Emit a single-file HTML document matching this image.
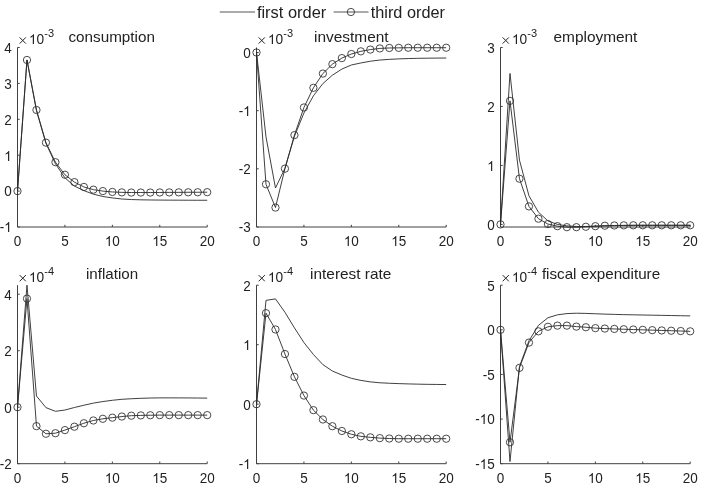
<!DOCTYPE html><html><head><meta charset="utf-8"><style>html,body{margin:0;padding:0;background:#fff;}svg{display:block;will-change:transform;}text{font-family:"Liberation Sans",sans-serif;}</style></head><body>
<svg width="704" height="488" viewBox="0 0 704 488">
<rect width="704" height="488" fill="#fff"/>
<path d="M17.5 47.5V227H207.2" fill="none" stroke="#404040" stroke-width="1.0"/>
<path d="M17.5 47.5h2.2M17.5 83.4h2.2M17.5 119.3h2.2M17.5 155.2h2.2M17.5 191.1h2.2M17.5 227h2.2M17.5 227v-2.2M64.92 227v-2.2M112.35 227v-2.2M159.78 227v-2.2M207.2 227v-2.2" fill="none" stroke="#404040" stroke-width="1.0"/>
<text x="4.19" y="53" font-size="14.8" textLength="7.51" lengthAdjust="spacingAndGlyphs" fill="#222">4</text>
<text x="4.19" y="89" font-size="14.8" textLength="7.51" lengthAdjust="spacingAndGlyphs" fill="#222">3</text>
<text x="4.19" y="125" font-size="14.8" textLength="7.51" lengthAdjust="spacingAndGlyphs" fill="#222">2</text>
<text x="4.19" y="161" font-size="14.8" textLength="7.51" lengthAdjust="spacingAndGlyphs" fill="#222"> </text><path d="M763 0L583 0L583 1147Q518 1085 412 1023Q306 961 222 930L222 1104Q373 1175 486 1276Q599 1377 646 1472L763 1472Z" fill="#222" transform="matrix(0.00659 0 0 -0.00676 4.19 161)"/>
<text x="4.19" y="196" font-size="14.8" textLength="7.51" lengthAdjust="spacingAndGlyphs" fill="#222">0</text>
<text x="-0.3" y="232" font-size="14.8" textLength="12" lengthAdjust="spacingAndGlyphs" fill="#222">- </text><path d="M763 0L583 0L583 1147Q518 1085 412 1023Q306 961 222 930L222 1104Q373 1175 486 1276Q599 1377 646 1472L763 1472Z" fill="#222" transform="matrix(0.00659 0 0 -0.00676 4.19 232)"/>
<text x="13.75" y="246" font-size="14.8" textLength="7.51" lengthAdjust="spacingAndGlyphs" fill="#222">0</text>
<text x="61.17" y="246" font-size="14.8" textLength="7.51" lengthAdjust="spacingAndGlyphs" fill="#222">5</text>
<text x="104.84" y="246" font-size="14.8" textLength="15.02" lengthAdjust="spacingAndGlyphs" fill="#222"> 0</text><path d="M763 0L583 0L583 1147Q518 1085 412 1023Q306 961 222 930L222 1104Q373 1175 486 1276Q599 1377 646 1472L763 1472Z" fill="#222" transform="matrix(0.00659 0 0 -0.00676 104.84 246)"/>
<text x="152.27" y="246" font-size="14.8" textLength="15.02" lengthAdjust="spacingAndGlyphs" fill="#222"> 5</text><path d="M763 0L583 0L583 1147Q518 1085 412 1023Q306 961 222 930L222 1104Q373 1175 486 1276Q599 1377 646 1472L763 1472Z" fill="#222" transform="matrix(0.00659 0 0 -0.00676 152.27 246)"/>
<text x="199.69" y="246" font-size="14.8" textLength="15.02" lengthAdjust="spacingAndGlyphs" fill="#222">20</text>
<path d="M19.65 37.4L25.85 43.6M25.85 37.4L19.65 43.6" stroke="#222" stroke-width="1.0" fill="none"/>
<text x="28.9" y="44" font-size="14.6" textLength="15.24" lengthAdjust="spacingAndGlyphs" fill="#222"> 0</text><path d="M763 0L583 0L583 1147Q518 1085 412 1023Q306 961 222 930L222 1104Q373 1175 486 1276Q599 1377 646 1472L763 1472Z" fill="#222" transform="matrix(0.00669 0 0 -0.00667 28.9 44)"/>
<text x="44.3" y="36.9" font-size="11.0" fill="#222">-3</text>
<text x="68.5" y="41.7" font-size="15.0" textLength="86.4" lengthAdjust="spacingAndGlyphs" fill="#222">consumption</text>
<polyline points="17.5,191.1 26.98,59.96 36.47,110.68 45.95,143.35 55.44,163.82 64.92,177.82 74.41,186.07 83.89,190.63 93.38,194.15 102.86,196.49 112.35,197.92 121.83,199 131.32,199.54 140.81,199.82 150.29,199.97 159.78,200.07 169.26,200.15 178.74,200.18 188.23,200.22 197.71,200.25 207.2,200.25" fill="none" stroke="#2a2a2a" stroke-width="0.9" stroke-linejoin="round"/>
<polyline points="17.5,191.1 26.98,59.96 36.47,109.97 45.95,142.63 55.44,162.2 64.92,174.73 74.41,182.12 83.89,186.94 93.38,189.66 102.86,191.1 112.35,191.96 121.83,192.36 131.32,192.54 140.81,192.54 150.29,192.54 159.78,192.46 169.26,192.39 178.74,192.36 188.23,192.28 197.71,192.25 207.2,192.18" fill="none" stroke="#2a2a2a" stroke-width="0.9" stroke-linejoin="round"/>
<g fill="none" stroke="#2a2a2a" stroke-width="0.85"><circle cx="17.5" cy="191.1" r="3.65"/><circle cx="26.98" cy="59.96" r="3.65"/><circle cx="36.47" cy="109.97" r="3.65"/><circle cx="45.95" cy="142.63" r="3.65"/><circle cx="55.44" cy="162.2" r="3.65"/><circle cx="64.92" cy="174.73" r="3.65"/><circle cx="74.41" cy="182.12" r="3.65"/><circle cx="83.89" cy="186.94" r="3.65"/><circle cx="93.38" cy="189.66" r="3.65"/><circle cx="102.86" cy="191.1" r="3.65"/><circle cx="112.35" cy="191.96" r="3.65"/><circle cx="121.83" cy="192.36" r="3.65"/><circle cx="131.32" cy="192.54" r="3.65"/><circle cx="140.81" cy="192.54" r="3.65"/><circle cx="150.29" cy="192.54" r="3.65"/><circle cx="159.78" cy="192.46" r="3.65"/><circle cx="169.26" cy="192.39" r="3.65"/><circle cx="178.74" cy="192.36" r="3.65"/><circle cx="188.23" cy="192.28" r="3.65"/><circle cx="197.71" cy="192.25" r="3.65"/><circle cx="207.2" cy="192.18" r="3.65"/></g>
<path d="M256.5 47.5V227H446.2" fill="none" stroke="#404040" stroke-width="1.0"/>
<path d="M256.5 52.5h2.2M256.5 110.67h2.2M256.5 168.83h2.2M256.5 227h2.2M256.5 227v-2.2M303.93 227v-2.2M351.35 227v-2.2M398.77 227v-2.2M446.2 227v-2.2" fill="none" stroke="#404040" stroke-width="1.0"/>
<text x="243.19" y="58" font-size="14.8" textLength="7.51" lengthAdjust="spacingAndGlyphs" fill="#222">0</text>
<text x="238.7" y="116" font-size="14.8" textLength="12" lengthAdjust="spacingAndGlyphs" fill="#222">- </text><path d="M763 0L583 0L583 1147Q518 1085 412 1023Q306 961 222 930L222 1104Q373 1175 486 1276Q599 1377 646 1472L763 1472Z" fill="#222" transform="matrix(0.00659 0 0 -0.00676 243.19 116)"/>
<text x="238.7" y="174" font-size="14.8" textLength="12" lengthAdjust="spacingAndGlyphs" fill="#222">-2</text>
<text x="238.7" y="232" font-size="14.8" textLength="12" lengthAdjust="spacingAndGlyphs" fill="#222">-3</text>
<text x="252.75" y="246" font-size="14.8" textLength="7.51" lengthAdjust="spacingAndGlyphs" fill="#222">0</text>
<text x="300.17" y="246" font-size="14.8" textLength="7.51" lengthAdjust="spacingAndGlyphs" fill="#222">5</text>
<text x="343.84" y="246" font-size="14.8" textLength="15.02" lengthAdjust="spacingAndGlyphs" fill="#222"> 0</text><path d="M763 0L583 0L583 1147Q518 1085 412 1023Q306 961 222 930L222 1104Q373 1175 486 1276Q599 1377 646 1472L763 1472Z" fill="#222" transform="matrix(0.00659 0 0 -0.00676 343.84 246)"/>
<text x="391.27" y="246" font-size="14.8" textLength="15.02" lengthAdjust="spacingAndGlyphs" fill="#222"> 5</text><path d="M763 0L583 0L583 1147Q518 1085 412 1023Q306 961 222 930L222 1104Q373 1175 486 1276Q599 1377 646 1472L763 1472Z" fill="#222" transform="matrix(0.00659 0 0 -0.00676 391.27 246)"/>
<text x="438.69" y="246" font-size="14.8" textLength="15.02" lengthAdjust="spacingAndGlyphs" fill="#222">20</text>
<path d="M258.65 37.4L264.85 43.6M264.85 37.4L258.65 43.6" stroke="#222" stroke-width="1.0" fill="none"/>
<text x="267.9" y="44" font-size="14.6" textLength="15.24" lengthAdjust="spacingAndGlyphs" fill="#222"> 0</text><path d="M763 0L583 0L583 1147Q518 1085 412 1023Q306 961 222 930L222 1104Q373 1175 486 1276Q599 1377 646 1472L763 1472Z" fill="#222" transform="matrix(0.00669 0 0 -0.00667 267.9 44)"/>
<text x="283.3" y="36.9" font-size="11.0" fill="#222">-3</text>
<text x="314" y="41.7" font-size="15.0" textLength="74.6" lengthAdjust="spacingAndGlyphs" fill="#222">investment</text>
<polyline points="256.5,52.5 265.99,136.84 275.47,188.03 284.95,168.25 294.44,136.26 303.93,112.99 313.41,95.84 322.89,83.62 332.38,75.19 341.87,69.08 351.35,65.01 360.83,62.97 370.32,61.23 379.81,60.06 389.29,59.37 398.77,58.9 408.26,58.55 417.75,58.32 427.23,58.2 436.71,58.09 446.2,58.03" fill="none" stroke="#2a2a2a" stroke-width="0.9" stroke-linejoin="round"/>
<polyline points="256.5,52.5 265.99,184.25 275.47,207.57 284.95,168.66 294.44,135.1 303.93,107.47 313.41,87.81 322.89,73.56 332.38,64.14 341.87,58.09 351.35,54.01 360.83,51.34 370.32,49.59 379.81,48.43 389.29,47.97 398.77,47.85 408.26,47.73 417.75,47.73 427.23,47.73 436.71,47.73 446.2,47.73" fill="none" stroke="#2a2a2a" stroke-width="0.9" stroke-linejoin="round"/>
<g fill="none" stroke="#2a2a2a" stroke-width="0.85"><circle cx="256.5" cy="52.5" r="3.65"/><circle cx="265.99" cy="184.25" r="3.65"/><circle cx="275.47" cy="207.57" r="3.65"/><circle cx="284.95" cy="168.66" r="3.65"/><circle cx="294.44" cy="135.1" r="3.65"/><circle cx="303.93" cy="107.47" r="3.65"/><circle cx="313.41" cy="87.81" r="3.65"/><circle cx="322.89" cy="73.56" r="3.65"/><circle cx="332.38" cy="64.14" r="3.65"/><circle cx="341.87" cy="58.09" r="3.65"/><circle cx="351.35" cy="54.01" r="3.65"/><circle cx="360.83" cy="51.34" r="3.65"/><circle cx="370.32" cy="49.59" r="3.65"/><circle cx="379.81" cy="48.43" r="3.65"/><circle cx="389.29" cy="47.97" r="3.65"/><circle cx="398.77" cy="47.85" r="3.65"/><circle cx="408.26" cy="47.73" r="3.65"/><circle cx="417.75" cy="47.73" r="3.65"/><circle cx="427.23" cy="47.73" r="3.65"/><circle cx="436.71" cy="47.73" r="3.65"/><circle cx="446.2" cy="47.73" r="3.65"/></g>
<path d="M500.5 47.5V227H690.2" fill="none" stroke="#404040" stroke-width="1.0"/>
<path d="M500.5 47.5h2.2M500.5 106.47h2.2M500.5 165.44h2.2M500.5 224.41h2.2M500.5 227v-2.2M547.92 227v-2.2M595.35 227v-2.2M642.77 227v-2.2M690.2 227v-2.2" fill="none" stroke="#404040" stroke-width="1.0"/>
<text x="487.19" y="53" font-size="14.8" textLength="7.51" lengthAdjust="spacingAndGlyphs" fill="#222">3</text>
<text x="487.19" y="112" font-size="14.8" textLength="7.51" lengthAdjust="spacingAndGlyphs" fill="#222">2</text>
<text x="487.19" y="171" font-size="14.8" textLength="7.51" lengthAdjust="spacingAndGlyphs" fill="#222"> </text><path d="M763 0L583 0L583 1147Q518 1085 412 1023Q306 961 222 930L222 1104Q373 1175 486 1276Q599 1377 646 1472L763 1472Z" fill="#222" transform="matrix(0.00659 0 0 -0.00676 487.19 171)"/>
<text x="487.19" y="230" font-size="14.8" textLength="7.51" lengthAdjust="spacingAndGlyphs" fill="#222">0</text>
<text x="496.75" y="246" font-size="14.8" textLength="7.51" lengthAdjust="spacingAndGlyphs" fill="#222">0</text>
<text x="544.17" y="246" font-size="14.8" textLength="7.51" lengthAdjust="spacingAndGlyphs" fill="#222">5</text>
<text x="587.84" y="246" font-size="14.8" textLength="15.02" lengthAdjust="spacingAndGlyphs" fill="#222"> 0</text><path d="M763 0L583 0L583 1147Q518 1085 412 1023Q306 961 222 930L222 1104Q373 1175 486 1276Q599 1377 646 1472L763 1472Z" fill="#222" transform="matrix(0.00659 0 0 -0.00676 587.84 246)"/>
<text x="635.27" y="246" font-size="14.8" textLength="15.02" lengthAdjust="spacingAndGlyphs" fill="#222"> 5</text><path d="M763 0L583 0L583 1147Q518 1085 412 1023Q306 961 222 930L222 1104Q373 1175 486 1276Q599 1377 646 1472L763 1472Z" fill="#222" transform="matrix(0.00659 0 0 -0.00676 635.27 246)"/>
<text x="682.69" y="246" font-size="14.8" textLength="15.02" lengthAdjust="spacingAndGlyphs" fill="#222">20</text>
<path d="M502.65 37.4L508.85 43.6M508.85 37.4L502.65 43.6" stroke="#222" stroke-width="1.0" fill="none"/>
<text x="511.9" y="44" font-size="14.6" textLength="15.24" lengthAdjust="spacingAndGlyphs" fill="#222"> 0</text><path d="M763 0L583 0L583 1147Q518 1085 412 1023Q306 961 222 930L222 1104Q373 1175 486 1276Q599 1377 646 1472L763 1472Z" fill="#222" transform="matrix(0.00669 0 0 -0.00667 511.9 44)"/>
<text x="527.3" y="36.9" font-size="11.0" fill="#222">-3</text>
<text x="553.5" y="41.7" font-size="15.0" textLength="83.9" lengthAdjust="spacingAndGlyphs" fill="#222">employment</text>
<polyline points="500.5,224.41 509.99,73.45 519.47,160.13 528.96,195.81 538.44,212.2 547.92,220.87 557.41,224.41 566.89,225.88 576.38,226.47 585.87,226.47 595.35,226.17 604.84,225.88 614.32,225.58 623.8,225.47 633.29,225.35 642.77,225.29 652.26,225.29 661.75,225.29 671.23,225.29 680.71,225.29 690.2,225.29" fill="none" stroke="#2a2a2a" stroke-width="0.9" stroke-linejoin="round"/>
<polyline points="500.5,224.41 509.99,100.87 519.47,178.7 528.96,206.42 538.44,218.69 547.92,224.05 557.41,226.17 566.89,227.18 576.38,227.18 585.87,226.76 595.35,226.17 604.84,225.7 614.32,225.47 623.8,225.35 633.29,225.29 642.77,225.29 652.26,225.29 661.75,225.29 671.23,225.29 680.71,225.29 690.2,225.29" fill="none" stroke="#2a2a2a" stroke-width="0.9" stroke-linejoin="round"/>
<g fill="none" stroke="#2a2a2a" stroke-width="0.85"><circle cx="500.5" cy="224.41" r="3.65"/><circle cx="509.99" cy="100.87" r="3.65"/><circle cx="519.47" cy="178.7" r="3.65"/><circle cx="528.96" cy="206.42" r="3.65"/><circle cx="538.44" cy="218.69" r="3.65"/><circle cx="547.92" cy="224.05" r="3.65"/><circle cx="557.41" cy="226.17" r="3.65"/><circle cx="566.89" cy="227.18" r="3.65"/><circle cx="576.38" cy="227.18" r="3.65"/><circle cx="585.87" cy="226.76" r="3.65"/><circle cx="595.35" cy="226.17" r="3.65"/><circle cx="604.84" cy="225.7" r="3.65"/><circle cx="614.32" cy="225.47" r="3.65"/><circle cx="623.8" cy="225.35" r="3.65"/><circle cx="633.29" cy="225.29" r="3.65"/><circle cx="642.77" cy="225.29" r="3.65"/><circle cx="652.26" cy="225.29" r="3.65"/><circle cx="661.75" cy="225.29" r="3.65"/><circle cx="671.23" cy="225.29" r="3.65"/><circle cx="680.71" cy="225.29" r="3.65"/><circle cx="690.2" cy="225.29" r="3.65"/></g>
<path d="M17.5 285.2V463.7H207.2" fill="none" stroke="#404040" stroke-width="1.0"/>
<path d="M17.5 294.24h2.2M17.5 350.73h2.2M17.5 407.21h2.2M17.5 463.7h2.2M17.5 463.7v-2.2M64.92 463.7v-2.2M112.35 463.7v-2.2M159.78 463.7v-2.2M207.2 463.7v-2.2" fill="none" stroke="#404040" stroke-width="1.0"/>
<text x="4.19" y="300" font-size="14.8" textLength="7.51" lengthAdjust="spacingAndGlyphs" fill="#222">4</text>
<text x="4.19" y="356" font-size="14.8" textLength="7.51" lengthAdjust="spacingAndGlyphs" fill="#222">2</text>
<text x="4.19" y="413" font-size="14.8" textLength="7.51" lengthAdjust="spacingAndGlyphs" fill="#222">0</text>
<text x="-0.3" y="469" font-size="14.8" textLength="12" lengthAdjust="spacingAndGlyphs" fill="#222">-2</text>
<text x="13.75" y="483" font-size="14.8" textLength="7.51" lengthAdjust="spacingAndGlyphs" fill="#222">0</text>
<text x="61.17" y="483" font-size="14.8" textLength="7.51" lengthAdjust="spacingAndGlyphs" fill="#222">5</text>
<text x="104.84" y="483" font-size="14.8" textLength="15.02" lengthAdjust="spacingAndGlyphs" fill="#222"> 0</text><path d="M763 0L583 0L583 1147Q518 1085 412 1023Q306 961 222 930L222 1104Q373 1175 486 1276Q599 1377 646 1472L763 1472Z" fill="#222" transform="matrix(0.00659 0 0 -0.00676 104.84 483)"/>
<text x="152.27" y="483" font-size="14.8" textLength="15.02" lengthAdjust="spacingAndGlyphs" fill="#222"> 5</text><path d="M763 0L583 0L583 1147Q518 1085 412 1023Q306 961 222 930L222 1104Q373 1175 486 1276Q599 1377 646 1472L763 1472Z" fill="#222" transform="matrix(0.00659 0 0 -0.00676 152.27 483)"/>
<text x="199.69" y="483" font-size="14.8" textLength="15.02" lengthAdjust="spacingAndGlyphs" fill="#222">20</text>
<path d="M19.65 275.1L25.85 281.3M25.85 275.1L19.65 281.3" stroke="#222" stroke-width="1.0" fill="none"/>
<text x="28.9" y="282" font-size="14.6" textLength="15.24" lengthAdjust="spacingAndGlyphs" fill="#222"> 0</text><path d="M763 0L583 0L583 1147Q518 1085 412 1023Q306 961 222 930L222 1104Q373 1175 486 1276Q599 1377 646 1472L763 1472Z" fill="#222" transform="matrix(0.00669 0 0 -0.00667 28.9 282)"/>
<text x="44.3" y="274.6" font-size="11.0" fill="#222">-4</text>
<text x="86" y="279.4" font-size="15.0" textLength="52.1" lengthAdjust="spacingAndGlyphs" fill="#222">inflation</text>
<polyline points="17.5,407.21 26.98,285.2 36.47,396 45.95,407.61 55.44,411.31 64.92,410.04 74.41,407.5 83.89,405.24 93.38,403.12 102.86,401.56 112.35,400.29 121.83,399.3 131.32,398.74 140.81,398.32 150.29,398.03 159.78,397.89 169.26,397.89 178.74,397.89 188.23,397.95 197.71,398.03 207.2,398.12" fill="none" stroke="#2a2a2a" stroke-width="0.9" stroke-linejoin="round"/>
<polyline points="17.5,407.21 26.98,298.62 36.47,426.14 45.95,433.76 55.44,433.2 64.92,430.09 74.41,426.7 83.89,423.23 93.38,420.49 102.86,418.79 112.35,417.66 121.83,416.53 131.32,415.69 140.81,415.4 150.29,415.26 159.78,415.12 169.26,415.12 178.74,415.12 188.23,415.12 197.71,415.12 207.2,415.12" fill="none" stroke="#2a2a2a" stroke-width="0.9" stroke-linejoin="round"/>
<g fill="none" stroke="#2a2a2a" stroke-width="0.85"><circle cx="17.5" cy="407.21" r="3.65"/><circle cx="26.98" cy="298.62" r="3.65"/><circle cx="36.47" cy="426.14" r="3.65"/><circle cx="45.95" cy="433.76" r="3.65"/><circle cx="55.44" cy="433.2" r="3.65"/><circle cx="64.92" cy="430.09" r="3.65"/><circle cx="74.41" cy="426.7" r="3.65"/><circle cx="83.89" cy="423.23" r="3.65"/><circle cx="93.38" cy="420.49" r="3.65"/><circle cx="102.86" cy="418.79" r="3.65"/><circle cx="112.35" cy="417.66" r="3.65"/><circle cx="121.83" cy="416.53" r="3.65"/><circle cx="131.32" cy="415.69" r="3.65"/><circle cx="140.81" cy="415.4" r="3.65"/><circle cx="150.29" cy="415.26" r="3.65"/><circle cx="159.78" cy="415.12" r="3.65"/><circle cx="169.26" cy="415.12" r="3.65"/><circle cx="178.74" cy="415.12" r="3.65"/><circle cx="188.23" cy="415.12" r="3.65"/><circle cx="197.71" cy="415.12" r="3.65"/><circle cx="207.2" cy="415.12" r="3.65"/></g>
<path d="M256.5 285.2V463.7H446.2" fill="none" stroke="#404040" stroke-width="1.0"/>
<path d="M256.5 285.2h2.2M256.5 344.7h2.2M256.5 404.2h2.2M256.5 463.7h2.2M256.5 463.7v-2.2M303.93 463.7v-2.2M351.35 463.7v-2.2M398.77 463.7v-2.2M446.2 463.7v-2.2" fill="none" stroke="#404040" stroke-width="1.0"/>
<text x="243.19" y="291" font-size="14.8" textLength="7.51" lengthAdjust="spacingAndGlyphs" fill="#222">2</text>
<text x="243.19" y="350" font-size="14.8" textLength="7.51" lengthAdjust="spacingAndGlyphs" fill="#222"> </text><path d="M763 0L583 0L583 1147Q518 1085 412 1023Q306 961 222 930L222 1104Q373 1175 486 1276Q599 1377 646 1472L763 1472Z" fill="#222" transform="matrix(0.00659 0 0 -0.00676 243.19 350)"/>
<text x="243.19" y="410" font-size="14.8" textLength="7.51" lengthAdjust="spacingAndGlyphs" fill="#222">0</text>
<text x="238.7" y="469" font-size="14.8" textLength="12" lengthAdjust="spacingAndGlyphs" fill="#222">- </text><path d="M763 0L583 0L583 1147Q518 1085 412 1023Q306 961 222 930L222 1104Q373 1175 486 1276Q599 1377 646 1472L763 1472Z" fill="#222" transform="matrix(0.00659 0 0 -0.00676 243.19 469)"/>
<text x="252.75" y="483" font-size="14.8" textLength="7.51" lengthAdjust="spacingAndGlyphs" fill="#222">0</text>
<text x="300.17" y="483" font-size="14.8" textLength="7.51" lengthAdjust="spacingAndGlyphs" fill="#222">5</text>
<text x="343.84" y="483" font-size="14.8" textLength="15.02" lengthAdjust="spacingAndGlyphs" fill="#222"> 0</text><path d="M763 0L583 0L583 1147Q518 1085 412 1023Q306 961 222 930L222 1104Q373 1175 486 1276Q599 1377 646 1472L763 1472Z" fill="#222" transform="matrix(0.00659 0 0 -0.00676 343.84 483)"/>
<text x="391.27" y="483" font-size="14.8" textLength="15.02" lengthAdjust="spacingAndGlyphs" fill="#222"> 5</text><path d="M763 0L583 0L583 1147Q518 1085 412 1023Q306 961 222 930L222 1104Q373 1175 486 1276Q599 1377 646 1472L763 1472Z" fill="#222" transform="matrix(0.00659 0 0 -0.00676 391.27 483)"/>
<text x="438.69" y="483" font-size="14.8" textLength="15.02" lengthAdjust="spacingAndGlyphs" fill="#222">20</text>
<path d="M258.65 275.1L264.85 281.3M264.85 275.1L258.65 281.3" stroke="#222" stroke-width="1.0" fill="none"/>
<text x="267.9" y="282" font-size="14.6" textLength="15.24" lengthAdjust="spacingAndGlyphs" fill="#222"> 0</text><path d="M763 0L583 0L583 1147Q518 1085 412 1023Q306 961 222 930L222 1104Q373 1175 486 1276Q599 1377 646 1472L763 1472Z" fill="#222" transform="matrix(0.00669 0 0 -0.00667 267.9 282)"/>
<text x="283.3" y="274.6" font-size="11.0" fill="#222">-4</text>
<text x="310.1" y="279.4" font-size="15.0" textLength="81.2" lengthAdjust="spacingAndGlyphs" fill="#222">interest rate</text>
<polyline points="256.5,404.2 265.99,300.37 275.47,298.88 284.95,312.27 294.44,327.86 303.93,342.56 313.41,354.52 322.89,364.63 332.38,371 341.87,375.04 351.35,378.32 360.83,380.4 370.32,381.89 379.81,382.78 389.29,383.26 398.77,383.61 408.26,383.91 417.75,384.15 427.23,384.33 436.71,384.45 446.2,384.56" fill="none" stroke="#2a2a2a" stroke-width="0.9" stroke-linejoin="round"/>
<polyline points="256.5,404.2 265.99,313.16 275.47,329.47 284.95,354.04 294.44,376.83 303.93,395.57 313.41,410.15 322.89,419.49 332.38,426.21 341.87,430.97 351.35,434.25 360.83,436.33 370.32,437.34 379.81,438.12 389.29,438.53 398.77,438.71 408.26,438.71 417.75,438.71 427.23,438.71 436.71,438.71 446.2,438.71" fill="none" stroke="#2a2a2a" stroke-width="0.9" stroke-linejoin="round"/>
<g fill="none" stroke="#2a2a2a" stroke-width="0.85"><circle cx="256.5" cy="404.2" r="3.65"/><circle cx="265.99" cy="313.16" r="3.65"/><circle cx="275.47" cy="329.47" r="3.65"/><circle cx="284.95" cy="354.04" r="3.65"/><circle cx="294.44" cy="376.83" r="3.65"/><circle cx="303.93" cy="395.57" r="3.65"/><circle cx="313.41" cy="410.15" r="3.65"/><circle cx="322.89" cy="419.49" r="3.65"/><circle cx="332.38" cy="426.21" r="3.65"/><circle cx="341.87" cy="430.97" r="3.65"/><circle cx="351.35" cy="434.25" r="3.65"/><circle cx="360.83" cy="436.33" r="3.65"/><circle cx="370.32" cy="437.34" r="3.65"/><circle cx="379.81" cy="438.12" r="3.65"/><circle cx="389.29" cy="438.53" r="3.65"/><circle cx="398.77" cy="438.71" r="3.65"/><circle cx="408.26" cy="438.71" r="3.65"/><circle cx="417.75" cy="438.71" r="3.65"/><circle cx="427.23" cy="438.71" r="3.65"/><circle cx="436.71" cy="438.71" r="3.65"/><circle cx="446.2" cy="438.71" r="3.65"/></g>
<path d="M500.5 285.2V463.7H690.2" fill="none" stroke="#404040" stroke-width="1.0"/>
<path d="M500.5 285.2h2.2M500.5 329.82h2.2M500.5 374.45h2.2M500.5 419.07h2.2M500.5 463.7h2.2M500.5 463.7v-2.2M547.92 463.7v-2.2M595.35 463.7v-2.2M642.77 463.7v-2.2M690.2 463.7v-2.2" fill="none" stroke="#404040" stroke-width="1.0"/>
<text x="487.19" y="291" font-size="14.8" textLength="7.51" lengthAdjust="spacingAndGlyphs" fill="#222">5</text>
<text x="487.19" y="335" font-size="14.8" textLength="7.51" lengthAdjust="spacingAndGlyphs" fill="#222">0</text>
<text x="482.7" y="380" font-size="14.8" textLength="12" lengthAdjust="spacingAndGlyphs" fill="#222">-5</text>
<text x="475.19" y="424" font-size="14.8" textLength="19.51" lengthAdjust="spacingAndGlyphs" fill="#222">- 0</text><path d="M763 0L583 0L583 1147Q518 1085 412 1023Q306 961 222 930L222 1104Q373 1175 486 1276Q599 1377 646 1472L763 1472Z" fill="#222" transform="matrix(0.00659 0 0 -0.00676 479.68 424)"/>
<text x="475.19" y="469" font-size="14.8" textLength="19.51" lengthAdjust="spacingAndGlyphs" fill="#222">- 5</text><path d="M763 0L583 0L583 1147Q518 1085 412 1023Q306 961 222 930L222 1104Q373 1175 486 1276Q599 1377 646 1472L763 1472Z" fill="#222" transform="matrix(0.00659 0 0 -0.00676 479.68 469)"/>
<text x="496.75" y="483" font-size="14.8" textLength="7.51" lengthAdjust="spacingAndGlyphs" fill="#222">0</text>
<text x="544.17" y="483" font-size="14.8" textLength="7.51" lengthAdjust="spacingAndGlyphs" fill="#222">5</text>
<text x="587.84" y="483" font-size="14.8" textLength="15.02" lengthAdjust="spacingAndGlyphs" fill="#222"> 0</text><path d="M763 0L583 0L583 1147Q518 1085 412 1023Q306 961 222 930L222 1104Q373 1175 486 1276Q599 1377 646 1472L763 1472Z" fill="#222" transform="matrix(0.00659 0 0 -0.00676 587.84 483)"/>
<text x="635.27" y="483" font-size="14.8" textLength="15.02" lengthAdjust="spacingAndGlyphs" fill="#222"> 5</text><path d="M763 0L583 0L583 1147Q518 1085 412 1023Q306 961 222 930L222 1104Q373 1175 486 1276Q599 1377 646 1472L763 1472Z" fill="#222" transform="matrix(0.00659 0 0 -0.00676 635.27 483)"/>
<text x="682.69" y="483" font-size="14.8" textLength="15.02" lengthAdjust="spacingAndGlyphs" fill="#222">20</text>
<path d="M502.65 275.1L508.85 281.3M508.85 275.1L502.65 281.3" stroke="#222" stroke-width="1.0" fill="none"/>
<text x="511.9" y="282" font-size="14.6" textLength="15.24" lengthAdjust="spacingAndGlyphs" fill="#222"> 0</text><path d="M763 0L583 0L583 1147Q518 1085 412 1023Q306 961 222 930L222 1104Q373 1175 486 1276Q599 1377 646 1472L763 1472Z" fill="#222" transform="matrix(0.00669 0 0 -0.00667 511.9 282)"/>
<text x="527.3" y="274.6" font-size="11.0" fill="#222">-4</text>
<text x="541.9" y="279.4" font-size="15.0" textLength="118.2" lengthAdjust="spacingAndGlyphs" fill="#222">fiscal expenditure</text>
<polyline points="500.5,329.82 509.99,461.56 519.47,366.42 528.96,340.8 538.44,325.36 547.92,317.78 557.41,314.83 566.89,313.58 576.38,313.22 585.87,313.4 595.35,313.76 604.84,314.12 614.32,314.38 623.8,314.65 633.29,314.83 642.77,315.01 652.26,315.19 661.75,315.37 671.23,315.54 680.71,315.72 690.2,315.9" fill="none" stroke="#2a2a2a" stroke-width="0.9" stroke-linejoin="round"/>
<polyline points="500.5,329.82 509.99,442.28 519.47,367.85 528.96,342.59 538.44,331.34 547.92,326.79 557.41,325.63 566.89,325.63 576.38,326.61 585.87,327.24 595.35,328.13 604.84,328.58 614.32,328.93 623.8,329.24 633.29,329.54 642.77,329.84 652.26,330.15 661.75,330.45 671.23,330.72 680.71,331.03 690.2,331.34" fill="none" stroke="#2a2a2a" stroke-width="0.9" stroke-linejoin="round"/>
<g fill="none" stroke="#2a2a2a" stroke-width="0.85"><circle cx="500.5" cy="329.82" r="3.65"/><circle cx="509.99" cy="442.28" r="3.65"/><circle cx="519.47" cy="367.85" r="3.65"/><circle cx="528.96" cy="342.59" r="3.65"/><circle cx="538.44" cy="331.34" r="3.65"/><circle cx="547.92" cy="326.79" r="3.65"/><circle cx="557.41" cy="325.63" r="3.65"/><circle cx="566.89" cy="325.63" r="3.65"/><circle cx="576.38" cy="326.61" r="3.65"/><circle cx="585.87" cy="327.24" r="3.65"/><circle cx="595.35" cy="328.13" r="3.65"/><circle cx="604.84" cy="328.58" r="3.65"/><circle cx="614.32" cy="328.93" r="3.65"/><circle cx="623.8" cy="329.24" r="3.65"/><circle cx="633.29" cy="329.54" r="3.65"/><circle cx="642.77" cy="329.84" r="3.65"/><circle cx="652.26" cy="330.15" r="3.65"/><circle cx="661.75" cy="330.45" r="3.65"/><circle cx="671.23" cy="330.72" r="3.65"/><circle cx="680.71" cy="331.03" r="3.65"/><circle cx="690.2" cy="331.34" r="3.65"/></g>
<path d="M219.8 12H255M333.6 12H368.5" stroke="#444" stroke-width="0.9" fill="none"/>
<circle cx="350.9" cy="12" r="3.65" fill="none" stroke="#2a2a2a" stroke-width="0.85"/>
<text x="256.9" y="17.7" font-size="15.6" textLength="69.4" lengthAdjust="spacingAndGlyphs" fill="#222">first order</text>
<text x="370.7" y="17.7" font-size="15.6" textLength="74.3" lengthAdjust="spacingAndGlyphs" fill="#222">third order</text>
</svg></body></html>
